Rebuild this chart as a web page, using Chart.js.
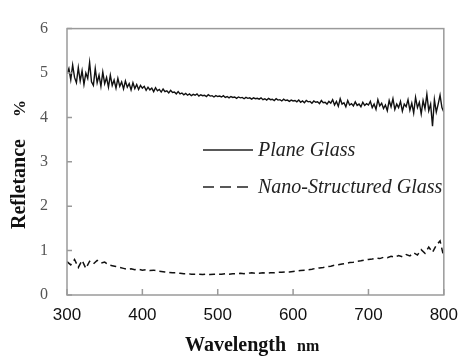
<!DOCTYPE html>
<html>
<head>
<meta charset="utf-8">
<script src="https://cdn.jsdelivr.net/npm/chart.js@4/dist/chart.umd.min.js"></script>
<style>
  html, body { margin: 0; padding: 0; background: #fff; }
  #wrap { width: 468px; height: 358px; }
</style>
</head>
<body>
<div id="wrap"><canvas id="c" width="468" height="358"></canvas></div>
<script>
// wavelength grids, nm
const planeWavelengths = []
for (let w = 300; w <= 800; w += 2.5) planeWavelengths.push(w)
const nanoWavelengths = []
for (let w = 300; w <= 800; w += 5) nanoWavelengths.push(w)

// reflectance, %
const planeGlass = [
  4.98, 5.10, 4.85, 5.18, 4.90, 4.78, 5.12, 4.82, 5.05, 4.74, 5.00, 4.88, 5.24, 4.80, 4.72, 5.10, 4.78, 4.95, 4.70, 5.02, 4.76,
  4.90, 4.68, 4.95, 4.72, 4.84, 4.66, 4.88, 4.70, 4.80, 4.64, 4.82, 4.68, 4.76, 4.62, 4.78, 4.65, 4.74, 4.63, 4.72, 4.66,
  4.70, 4.61, 4.68, 4.62, 4.66, 4.58, 4.67, 4.60, 4.63, 4.57, 4.64, 4.58, 4.60, 4.55, 4.61, 4.56, 4.57, 4.53, 4.58, 4.53,
  4.55, 4.51, 4.54, 4.50, 4.53, 4.49, 4.52, 4.50, 4.53, 4.48, 4.51, 4.49, 4.50, 4.47, 4.51, 4.48, 4.49, 4.46, 4.49, 4.47,
  4.48, 4.46, 4.49, 4.45, 4.47, 4.44, 4.47, 4.45, 4.46, 4.43, 4.46, 4.44, 4.45, 4.42, 4.45, 4.43, 4.44, 4.41, 4.44, 4.42,
  4.43, 4.41, 4.44, 4.40, 4.42, 4.39, 4.43, 4.40, 4.41, 4.38, 4.42, 4.39, 4.40, 4.37, 4.41, 4.38, 4.39, 4.36, 4.39, 4.37,
  4.38, 4.35, 4.39, 4.34, 4.37, 4.33, 4.38, 4.35, 4.36, 4.32, 4.37, 4.34, 4.35, 4.31, 4.38, 4.33, 4.34, 4.30, 4.36, 4.32,
  4.40, 4.28, 4.36, 4.25, 4.42, 4.30, 4.33, 4.24, 4.38, 4.28, 4.31, 4.26, 4.35, 4.27, 4.30, 4.24, 4.34, 4.27, 4.31, 4.28,
  4.36, 4.22, 4.30, 4.18, 4.40, 4.26, 4.32, 4.20, 4.28, 4.15, 4.38, 4.24, 4.42, 4.18, 4.30, 4.22, 4.36, 4.14, 4.30, 4.24,
  4.40, 4.16, 4.32, 4.10, 4.45, 4.22, 4.34, 4.08, 4.38, 4.20, 4.52, 4.15, 4.30, 3.80, 4.40, 4.12, 4.30, 4.50, 4.22, 4.12
]
const nanoGlass = [
  0.75, 0.68, 0.80, 0.62, 0.78, 0.60, 0.76, 0.70, 0.78, 0.72,
  0.74, 0.68, 0.66, 0.64, 0.62, 0.60, 0.58, 0.59, 0.57, 0.58,
  0.56, 0.57, 0.55, 0.56, 0.54, 0.53, 0.52, 0.51, 0.50, 0.50,
  0.49, 0.48, 0.48, 0.47, 0.47, 0.47, 0.46, 0.47, 0.46, 0.47,
  0.47, 0.47, 0.48, 0.47, 0.48, 0.48, 0.49, 0.48, 0.49, 0.50,
  0.49, 0.49, 0.50, 0.49, 0.50, 0.50, 0.51, 0.51, 0.52, 0.52,
  0.53, 0.54, 0.55, 0.56, 0.57, 0.58, 0.60, 0.61, 0.62, 0.64,
  0.65, 0.67, 0.68, 0.70, 0.71, 0.73, 0.74, 0.76, 0.77, 0.79,
  0.80, 0.81, 0.83, 0.82, 0.85, 0.84, 0.87, 0.85, 0.89, 0.86,
  0.91, 0.88, 0.95, 0.90, 1.02, 0.94, 1.08, 0.96, 1.12, 1.22,
  0.85
]

const xTicks = [300, 400, 500, 600, 700, 800]
const yTicks = [0, 1, 2, 3, 4, 5, 6]
const seriesNames = ['Plane Glass', 'Nano-Structured Glass']

const frameColor = '#9a9a9a'
const serif = '"Liberation Serif", "Times New Roman", serif'

function points(xs, ys) {
    return xs.map((x, i) => ({ x: x, y: ys[i] }))
}

// frame, inward ticks, axis titles and the legend inside the plot
const decor = {
    id: 'decor',
    afterDraw(chart) {
        const ctx = chart.ctx
        const a = chart.chartArea
        const xs = chart.scales.x
        const ys = chart.scales.y
        ctx.save()
        ctx.strokeStyle = frameColor
        ctx.lineWidth = 1.5
        ctx.strokeRect(a.left, a.top, a.right - a.left, a.bottom - a.top)

        ctx.beginPath()
        yTicks.forEach(v => {
            const py = ys.getPixelForValue(v)
            ctx.moveTo(a.left, py)
            ctx.lineTo(a.left + 5, py)
        })
        xTicks.forEach(v => {
            const px = xs.getPixelForValue(v)
            ctx.moveTo(px, a.bottom)
            ctx.lineTo(px, a.bottom - 6)
        })
        ctx.stroke()

        // x title with a smaller unit
        ctx.fillStyle = '#111'
        ctx.textBaseline = 'alphabetic'
        ctx.textAlign = 'left'
        ctx.font = 'bold 20px ' + serif
        ctx.fillText('Wavelength', 185, 351)
        ctx.font = 'bold 16px ' + serif
        ctx.fillText('nm', 297, 351)

        // y title
        ctx.save()
        ctx.translate(25, 229)
        ctx.rotate(-Math.PI / 2)
        ctx.font = 'bold 20px ' + serif
        ctx.fillText('Refletance', 0, 0)
        ctx.font = 'bold 17px ' + serif
        ctx.fillText('%', 112, 0)
        ctx.restore()

        // legend
        const rows = [150, 187]
        chart.data.datasets.forEach((ds, i) => {
            const y = rows[i]
            ctx.save()
            ctx.strokeStyle = '#222'
            ctx.lineWidth = 1.5
            ctx.setLineDash(i === 0 ? [] : [11, 6])
            ctx.beginPath()
            ctx.moveTo(203, y)
            ctx.lineTo(i === 0 ? 253 : 250, y)
            ctx.stroke()
            ctx.restore()
            ctx.fillStyle = '#222'
            ctx.font = 'italic 20px ' + serif
            ctx.textBaseline = 'middle'
            ctx.fillText(ds.label, 258, y + 1)
        })
        ctx.restore()
    }
}

new Chart(document.getElementById('c').getContext('2d'), {
    type: 'line',
    data: {
        datasets: [
            {
                label: seriesNames[0],
                data: points(planeWavelengths, planeGlass),
                borderColor: '#111',
                borderWidth: 1.4,
                pointRadius: 0,
                tension: 0
            },
            {
                label: seriesNames[1],
                data: points(nanoWavelengths, nanoGlass),
                borderColor: '#111',
                borderWidth: 1.5,
                borderDash: [6, 4],
                pointRadius: 0,
                tension: 0
            }
        ]
    },
    options: {
        responsive: false,
        animation: false,
        layout: { padding: { top: 14, right: 15, left: 0, bottom: 0 } },
        plugins: {
            legend: { display: false },
            tooltip: { enabled: false }
        },
        scales: {
            x: {
                type: 'linear',
                min: 300,
                max: 800,
                afterBuildTicks: s => { s.ticks = xTicks.map(v => ({ value: v })) },
                afterFit: s => { s.height = 63 },
                grid: { display: false, drawTicks: false },
                border: { display: false },
                ticks: {
                    color: '#111',
                    padding: 10,
                    font: { family: '"Liberation Sans", Arial, sans-serif', size: 17 }
                }
            },
            y: {
                min: 0,
                max: 6,
                afterBuildTicks: s => { s.ticks = yTicks.map(v => ({ value: v })) },
                afterFit: s => { s.width = 67 },
                grid: { display: false, drawTicks: false },
                border: { display: false },
                ticks: {
                    color: '#555',
                    padding: 19,
                    font: { family: serif, size: 16 }
                }
            }
        }
    },
    plugins: [decor]
})
</script>
</body>
</html>
